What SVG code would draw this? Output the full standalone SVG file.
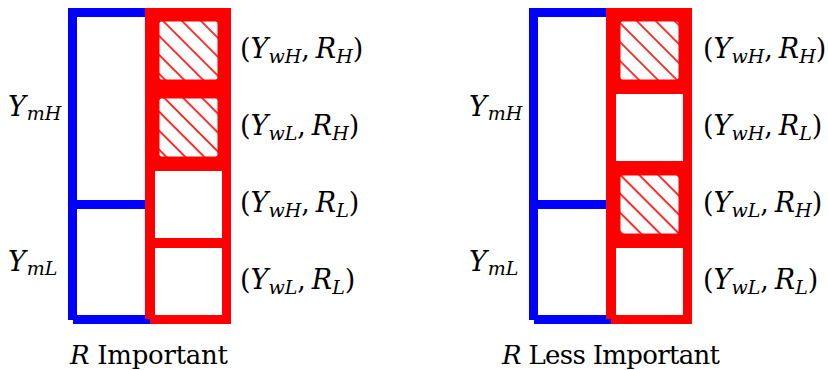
<svg xmlns="http://www.w3.org/2000/svg" width="828" height="370" viewBox="0 0 828 370">
<style>
.blue{fill:#0000ff}
.red{fill:#ff0000}
.cell{fill:#ffffff}
.hatch{fill:url(#hatch)}
.t{font-family:'DejaVu Serif','Liberation Serif',serif;font-size:27px;fill:#000000}
.cap{font-size:26px}
.i{font-style:italic}
.sub{font-style:italic;font-size:19px}
</style>
<defs>
<pattern id="hatch" patternUnits="userSpaceOnUse" width="13.4" height="13.4" patternTransform="rotate(45)">
<rect width="13.4" height="13.4" fill="#ffffff"/>
<line x1="0" y1="6.7" x2="13.4" y2="6.7" stroke="#ff0000" stroke-width="1.6"/>
</pattern>
<g id="frame">
<rect class="blue" x="68" y="8" width="9" height="312"/>
<rect class="blue" x="68" y="8" width="80" height="9"/>
<rect class="blue" x="68" y="200" width="80" height="9"/>
<rect class="blue" x="73" y="315" width="77" height="9"/>
<rect class="red" x="145" y="8" width="86" height="311"/>
<rect class="red" x="150" y="315" width="81" height="9"/>
</g>
</defs>

<g id="left-diagram">
<use href="#frame"/>
<g id="left-cell-1"><rect class="hatch" x="159.5" y="21.5" width="58" height="58" rx="2"/></g>
<g id="left-cell-2"><rect class="hatch" x="159.5" y="98.5" width="58" height="58" rx="2"/></g>
<g id="left-cell-3"><rect class="cell" x="155" y="171" width="67" height="67"/></g>
<g id="left-cell-4"><rect class="cell" x="155" y="248" width="67" height="67"/></g>
</g>

<g id="right-diagram">
<use href="#frame" x="461"/>
<g id="right-cell-1"><rect class="hatch" x="620.5" y="21.5" width="58" height="58" rx="2"/></g>
<g id="right-cell-2"><rect class="cell" x="616" y="94" width="67" height="67"/></g>
<g id="right-cell-3"><rect class="hatch" x="620.5" y="175.5" width="58" height="58" rx="2"/></g>
<g id="right-cell-4"><rect class="cell" x="616" y="248" width="67" height="67"/></g>
</g>

<g id="connectors"></g>

<g id="labels-left">
<text class="t" x="8" y="116"><tspan class="i">Y</tspan><tspan class="sub" dx="1" dy="4">mH</tspan></text>
<text class="t" x="8" y="271"><tspan class="i">Y</tspan><tspan class="sub" dx="1" dy="4">mL</tspan></text>
<text class="t" x="240" y="58">(<tspan class="i">Y</tspan><tspan class="sub" dy="5">wH</tspan><tspan dy="-5">,</tspan><tspan class="i" dx="6">R</tspan><tspan class="sub" dy="5">H</tspan><tspan dy="-5">)</tspan></text>
<text class="t" x="240" y="135">(<tspan class="i">Y</tspan><tspan class="sub" dy="5">wL</tspan><tspan dy="-5">,</tspan><tspan class="i" dx="6">R</tspan><tspan class="sub" dy="5">H</tspan><tspan dy="-5">)</tspan></text>
<text class="t" x="240" y="212">(<tspan class="i">Y</tspan><tspan class="sub" dy="5">wH</tspan><tspan dy="-5">,</tspan><tspan class="i" dx="6">R</tspan><tspan class="sub" dy="5">L</tspan><tspan dy="-5">)</tspan></text>
<text class="t" x="240" y="289">(<tspan class="i">Y</tspan><tspan class="sub" dy="5">wL</tspan><tspan dy="-5">,</tspan><tspan class="i" dx="6">R</tspan><tspan class="sub" dy="5">L</tspan><tspan dy="-5">)</tspan></text>
<text class="t cap" x="70" y="364" textLength="158"><tspan class="i">R</tspan> Important</text>
</g>

<g id="labels-right">
<text class="t" x="469" y="116"><tspan class="i">Y</tspan><tspan class="sub" dx="1" dy="4">mH</tspan></text>
<text class="t" x="469" y="271"><tspan class="i">Y</tspan><tspan class="sub" dx="1" dy="4">mL</tspan></text>
<text class="t" x="703" y="58">(<tspan class="i">Y</tspan><tspan class="sub" dy="5">wH</tspan><tspan dy="-5">,</tspan><tspan class="i" dx="6">R</tspan><tspan class="sub" dy="5">H</tspan><tspan dy="-5">)</tspan></text>
<text class="t" x="703" y="135">(<tspan class="i">Y</tspan><tspan class="sub" dy="5">wH</tspan><tspan dy="-5">,</tspan><tspan class="i" dx="6">R</tspan><tspan class="sub" dy="5">L</tspan><tspan dy="-5">)</tspan></text>
<text class="t" x="703" y="212">(<tspan class="i">Y</tspan><tspan class="sub" dy="5">wL</tspan><tspan dy="-5">,</tspan><tspan class="i" dx="6">R</tspan><tspan class="sub" dy="5">H</tspan><tspan dy="-5">)</tspan></text>
<text class="t" x="703" y="289">(<tspan class="i">Y</tspan><tspan class="sub" dy="5">wL</tspan><tspan dy="-5">,</tspan><tspan class="i" dx="6">R</tspan><tspan class="sub" dy="5">L</tspan><tspan dy="-5">)</tspan></text>
<text class="t cap" x="502" y="364" textLength="218"><tspan class="i">R</tspan> Less Important</text>
</g>
</svg>
